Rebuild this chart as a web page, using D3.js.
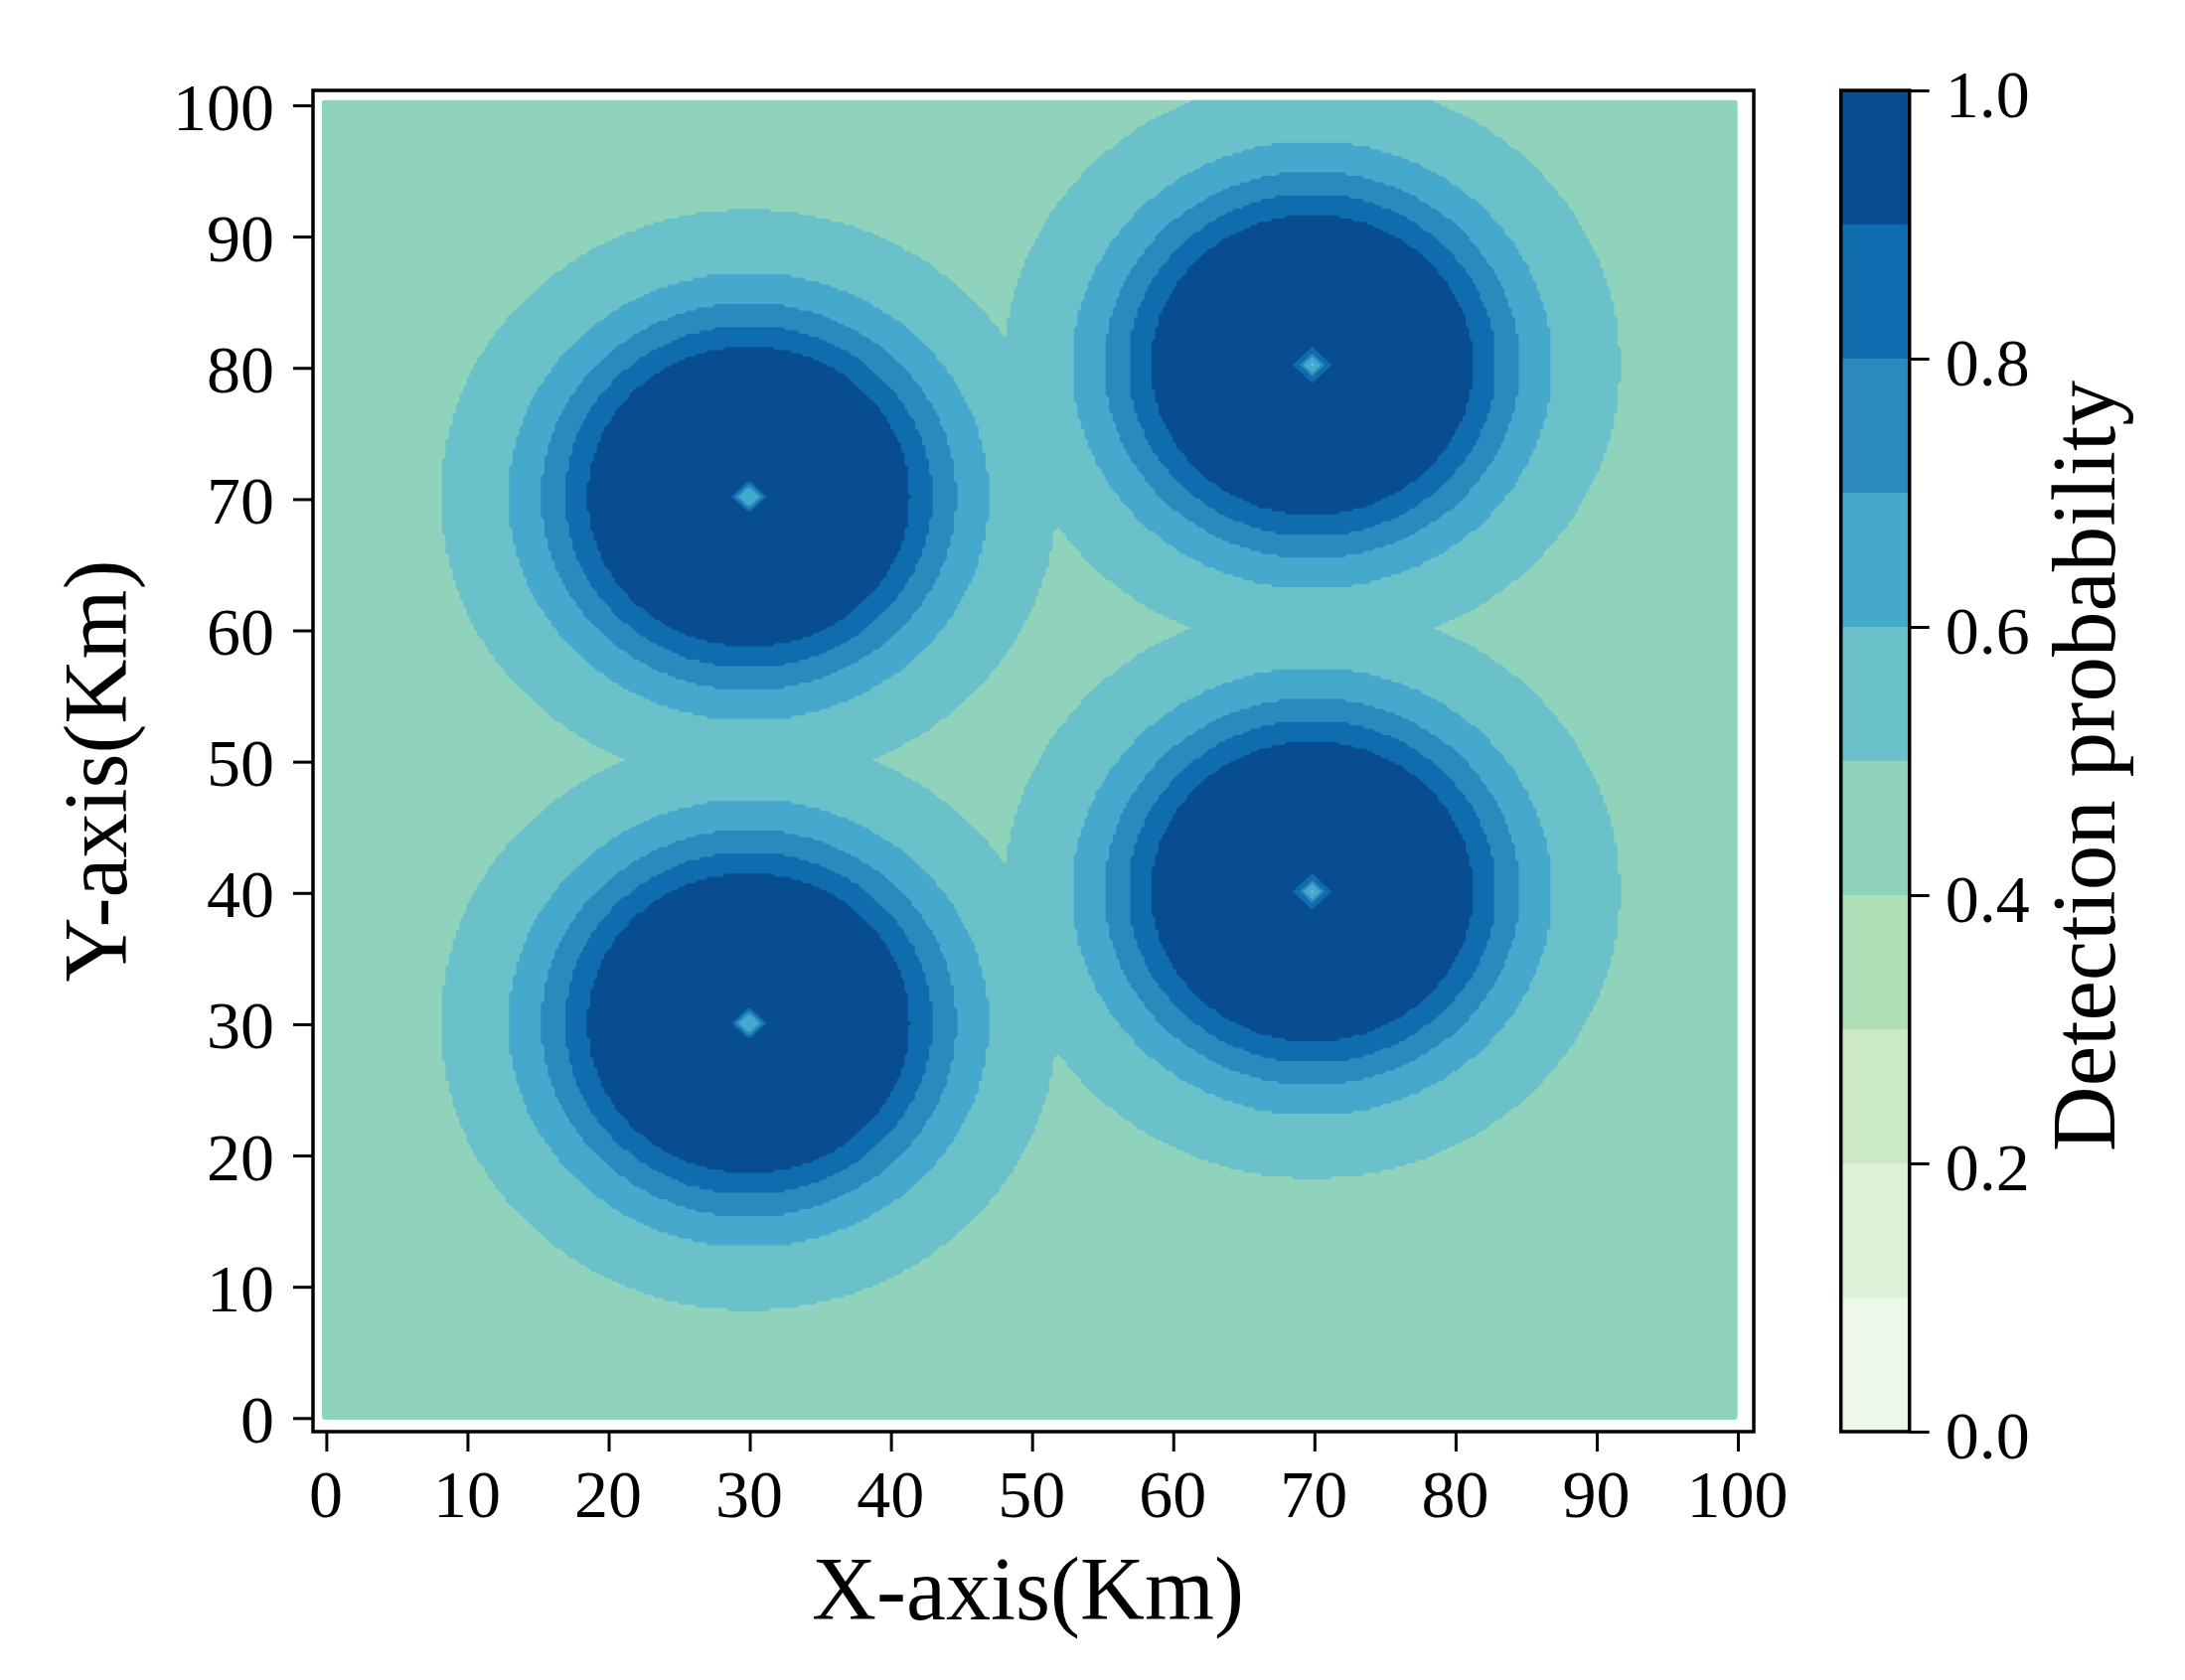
<!DOCTYPE html>
<html>
<head>
<meta charset="utf-8">
<script src="https://cdn.jsdelivr.net/npm/d3@7"></script>
<style>
  html, body { margin: 0; padding: 0; background: #fff; }
  svg { display: block; }
  text { font-family: "Liberation Serif", serif; fill: #000; }
</style>
</head>
<body>
<div id="chart"></div>
<script>
const WIDTH = 2199;
const HEIGHT = 1691;

// values
const X_TICKS = [0, 10, 20, 30, 40, 50, 60, 70, 80, 90, 100];
const Y_TICKS = [0, 10, 20, 30, 40, 50, 60, 70, 80, 90, 100];
const CB_TICKS = [0, 0.2, 0.4, 0.6, 0.8, 1.0];
const LEVEL_EDGES = [0, 0.1, 0.2, 0.3, 0.4, 0.5, 0.6, 0.7, 0.8, 0.9, 1.0];
const LEVEL_COLORS = ["#edf8e8", "#ddf1d7", "#cbeac4", "#aedfb6", "#8fd3bd",
  "#6bc1c9", "#45a9ce", "#2a89bd", "#0f6daf", "#084d8f"];

// sensor positions (km)
const SENSOR_X = [30.1, 30.1, 70, 70];
const SENSOR_Y = [30, 70, 40, 80];

// ring radii around a sensor (km) and the level inside each one
const RING_RADII = [11.4, 13.0, 14.7, 17.0, 21.8];
const RING_LEVELS = [0.95, 0.85, 0.75, 0.65, 0.55, 0.45];

// small diamond at a sensor's centre (km)
const SPOT_RADII = [0.1, 0.75, 1.0, 1.35];
const SPOT_LEVELS = [0.55, 0.65, 0.75, 0.85, null];

const GRID_SIZE = 401;
const GRID_STEP = 0.25;

const svg = d3.select("#chart").append("svg")
  .attr("width", WIDTH)
  .attr("height", HEIGHT);

// the raster sits slightly off the axis ticks in the original
const fieldX = d3.scaleLinear().domain([0, GRID_SIZE]).range([324, 1748.7]);
const fieldY = d3.scaleLinear().domain([0, GRID_SIZE]).range([1429, 100.7]);

const xScale = d3.scaleLinear().domain([0, 100]).range([328.4, 1749]);
const yScale = d3.scaleLinear().domain([0, 100]).range([1427.3, 106]);
const cbScale = d3.scaleLinear().domain([0, 1]).range([1441, 91]);

const ringLevel = d3.scaleThreshold().domain(RING_RADII).range(RING_LEVELS);
const spotLevel = d3.scaleThreshold().domain(SPOT_RADII).range(SPOT_LEVELS);

const values = new Float32Array(GRID_SIZE * GRID_SIZE);
for (let j = 0; j < GRID_SIZE; j++) {
  for (let i = 0; i < GRID_SIZE; i++) {
    const gx = i * GRID_STEP;
    const gy = j * GRID_STEP;
    let v = 0;
    SENSOR_X.forEach((sx, k) => {
      const dx = gx - sx;
      const dy = gy - SENSOR_Y[k];
      const spot = spotLevel(Math.abs(dx) + Math.abs(dy));
      v = Math.max(v, spot !== null ? spot : ringLevel(Math.hypot(dx, dy)));
    });
    values[j * GRID_SIZE + i] = v;
  }
}

const thresholds = LEVEL_EDGES.slice(4, 10);
const contours = d3.contours()
  .size([GRID_SIZE, GRID_SIZE])
  .smooth(false)
  .thresholds(thresholds)(values);

const path = d3.geoPath(d3.geoTransform({
  point: function (x, y) { this.stream.point(fieldX(x), fieldY(y)); }
}));

svg.append("g")
  .selectAll("path")
  .data(contours)
  .enter()
  .append("path")
  .attr("d", path)
  .attr("fill", function (d) { return LEVEL_COLORS[LEVEL_EDGES.indexOf(d.value)]; });

// colorbar bands
svg.append("g")
  .selectAll("rect")
  .data(LEVEL_COLORS)
  .enter()
  .append("rect")
  .attr("x", 1852.7)
  .attr("width", 69)
  .attr("y", function (d, i) { return cbScale(LEVEL_EDGES[i + 1]); })
  .attr("height", function (d, i) { return cbScale(LEVEL_EDGES[i]) - cbScale(LEVEL_EDGES[i + 1]); })
  .attr("fill", function (d) { return d; });

// frames
const frames = [[315, 91, 1450, 1350], [1852.7, 91, 69, 1350]];
svg.append("g")
  .selectAll("rect")
  .data(frames)
  .enter()
  .append("rect")
  .attr("x", function (d) { return d[0]; })
  .attr("y", function (d) { return d[1]; })
  .attr("width", function (d) { return d[2]; })
  .attr("height", function (d) { return d[3]; })
  .attr("fill", "none")
  .attr("stroke", "#000")
  .attr("stroke-width", 3.5);

function styleAxis(g) {
  g.select(".domain").remove();
  g.selectAll(".tick line").attr("stroke", "#000").attr("stroke-width", 3);
  g.selectAll(".tick text").style("font-size", "68px").attr("fill", "#000");
}

svg.append("g")
  .attr("transform", "translate(0, 1441)")
  .call(d3.axisBottom(xScale).tickValues(X_TICKS).tickSize(20).tickFormat(d3.format("d")))
  .call(styleAxis)
  .call(function (g) { g.selectAll(".tick text").attr("x", -1).attr("y", 0).attr("dy", "86px"); });

svg.append("g")
  .attr("transform", "translate(315, 0)")
  .call(d3.axisLeft(yScale).tickValues(Y_TICKS).tickSize(20).tickFormat(d3.format("d")))
  .call(styleAxis)
  .call(function (g) { g.selectAll(".tick text").attr("x", -39).attr("y", 0).attr("dy", "24px"); });

svg.append("g")
  .attr("transform", "translate(1921.7, 0)")
  .call(d3.axisRight(cbScale).tickValues(CB_TICKS).tickSize(20).tickFormat(d3.format(".1f")))
  .call(styleAxis)
  .call(function (g) { g.selectAll(".tick text").attr("x", 36).attr("y", 0).attr("dy", "26px"); });

svg.append("text")
  .attr("x", 1034.5)
  .attr("y", 1630)
  .style("font-size", "90px")
  .style("text-anchor", "middle")
  .text("X-axis(Km)");

svg.append("text")
  .attr("transform", "translate(127, 776) rotate(-90)")
  .style("font-size", "90px")
  .style("text-anchor", "middle")
  .text("Y-axis(Km)");

svg.append("text")
  .attr("transform", "translate(2128, 771) rotate(-90)")
  .style("font-size", "91px")
  .style("text-anchor", "middle")
  .text("Detection probability");
</script>
</body>
</html>
